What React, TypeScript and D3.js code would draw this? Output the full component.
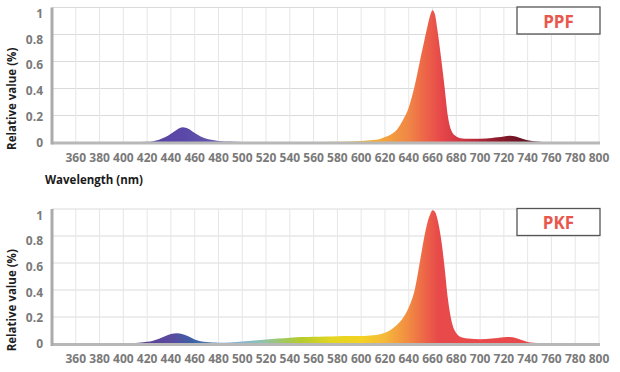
import * as d3 from "d3";

// spectrum sample points (nm)
const wavelengths = [
  340, 360, 380, 400, 410, 420, 425, 430, 435, 440, 445, 450, 455, 460, 465, 470, 475, 480,
  490, 500, 510, 520, 530, 540, 550, 560, 570, 580, 590, 600, 605, 610, 615, 620, 625, 630,
  635, 640, 645, 650, 653, 656, 658, 660, 662, 664, 667, 670, 673, 676, 680, 685, 690, 700,
  710, 715, 720, 725, 730, 735, 740, 750, 760, 780, 800,
];

const ppfValues = [
  0, 0, 0, 0.001, 0.002, 0.005, 0.01, 0.02, 0.038, 0.065, 0.095, 0.113, 0.1, 0.07, 0.045, 0.028, 0.018, 0.012,
  0.007, 0.004, 0.003, 0.002, 0.002, 0.002, 0.002, 0.003, 0.004, 0.005, 0.008, 0.012, 0.015, 0.018, 0.024, 0.04, 0.06, 0.095,
  0.165, 0.26, 0.42, 0.63, 0.75, 0.87, 0.94, 0.98, 0.95, 0.84, 0.64, 0.42, 0.19, 0.085, 0.045, 0.03, 0.027, 0.027,
  0.033, 0.038, 0.045, 0.05, 0.044, 0.03, 0.017, 0.006, 0.002, 0.001, 0,
];

const pkfValues = [
  0, 0, 0.001, 0.004, 0.008, 0.016, 0.025, 0.038, 0.057, 0.074, 0.08, 0.073, 0.055, 0.033, 0.02, 0.014, 0.011, 0.01,
  0.012, 0.018, 0.026, 0.034, 0.041, 0.047, 0.051, 0.054, 0.056, 0.058, 0.059, 0.06, 0.062, 0.065, 0.071, 0.083, 0.105, 0.14,
  0.19, 0.27, 0.4, 0.64, 0.79, 0.91, 0.96, 0.99, 0.98, 0.93, 0.79, 0.58, 0.33, 0.17, 0.08, 0.048, 0.04, 0.035,
  0.04, 0.045, 0.05, 0.052, 0.045, 0.03, 0.015, 0.006, 0.003, 0.001, 0,
];

const xTicks = [
  360, 380, 400, 420, 440, 460, 480, 500, 520, 540, 560, 580, 600, 620, 640, 660, 680, 700, 720, 740, 760, 780, 800,
];
const yTicks = [0, 0.2, 0.4, 0.6, 0.8, 1];
const yTickLabels = ["0", "0.2", "0.4", "0.6", "0.8", "1"];

// fill colour by wavelength
const ppfStopNm = [400, 450, 490, 590, 615, 640, 655, 668, 690, 715, 740];
const ppfStopColors = [
  "#5a3e9e", "#5a48a8", "#6660b0", "#f3c234", "#f4aa3c", "#f08646", "#ec6248", "#e6464a", "#c4303e", "#8c1c2c", "#601222",
];
const pkfStopNm = [400, 440, 458, 475, 495, 515, 535, 550, 575, 600, 620, 640, 655, 665, 800];
const pkfStopColors = [
  "#5c3a96", "#5a4a9e", "#3d60a6", "#4f7fb4", "#7fb2d6", "#8ec2b6", "#a2c85e", "#b6cc2c", "#e2d622", "#f4d222",
  "#f5b83a", "#f18a42", "#ec6248", "#e8494a", "#e8494a",
];

const FONT = "'Open Sans', 'DejaVu Sans', sans-serif";

export default function App() {
  const x = d3.scaleLinear().domain([340, 800]).range([52, 599]);

  const panels = [
    { id: "ppf", title: "PPF", values: ppfValues, stopNm: ppfStopNm, stopColors: ppfStopColors, top: 7.5, base: 142.5, labelTop: 13.3, labelBase: 142.3 },
    { id: "pkf", title: "PKF", values: pkfValues, stopNm: pkfStopNm, stopColors: pkfStopColors, top: 209, base: 344, labelTop: 215, labelBase: 343.5 },
  ];

  const x0 = x(340);
  const x1 = x(800);

  return (
    <div style={{ position: "fixed", left: 0, top: 0 }}>
      <svg width={620} height={372} style={{ display: "block", background: "#fff" }}>
        {panels.map((p) => {
          const y = d3.scaleLinear().domain([0, 1]).range([p.base, p.top]);
          const yLab = d3.scaleLinear().domain([0, 1]).range([p.labelBase, p.labelTop]);
          const area = d3
            .area<number>()
            .x((d, i) => x(wavelengths[i]))
            .y0(y(0))
            .y1((d) => y(d))
            .curve(d3.curveMonotoneX);
          return (
            <g key={p.id}>
              <defs>
                <linearGradient id={"grad-" + p.id} gradientUnits="userSpaceOnUse" x1={x0} y1={0} x2={x1} y2={0}>
                  {p.stopNm.map((nm, i) => (
                    <stop key={i} offset={(x(nm) - x0) / (x1 - x0)} stopColor={p.stopColors[i]} />
                  ))}
                </linearGradient>
              </defs>
              {/* grid */}
              {yTicks.slice(1).map((t) => (
                <line key={"h" + t} x1={x0} x2={x1} y1={y(t)} y2={y(t)} stroke="#dadada" strokeWidth={1} />
              ))}
              {xTicks.map((t) => (
                <line key={"v" + t} x1={x(t)} x2={x(t)} y1={y(1)} y2={y(0)} stroke="#e6e6e6" strokeWidth={1} />
              ))}
              <path d={area(p.values) || ""} fill={`url(#grad-${p.id})`} />
              {/* axes */}
              <line x1={x0} x2={x1 + 1} y1={y(0) + 0.5} y2={y(0) + 0.5} stroke="#b8b8b8" strokeWidth={3} />
              <line x1={x0} x2={x0} y1={y(1)} y2={y(0) + 2} stroke="#ababab" strokeWidth={3} />
              {yTicks.map((t, i) => (
                <text
                  key={"yl" + t}
                  x={43}
                  y={yLab(t)}
                  textAnchor="end"
                  dominantBaseline="central"
                  fontFamily={FONT}
                  fontWeight={700}
                  fontSize={12}
                  fill="#7a7a7a"
                >
                  {yTickLabels[i]}
                </text>
              ))}
              {xTicks.map((t) => (
                <text
                  key={"xl" + t}
                  x={x(t)}
                  y={y(0) + 19}
                  textAnchor="middle"
                  fontFamily={FONT}
                  fontWeight={700}
                  fontSize={12}
                  fill="#7a7a7a"
                >
                  {t}
                </text>
              ))}
              <text
                transform={`translate(16,${(p.labelTop + p.labelBase) / 2 + 21}) rotate(-90)`}
                textAnchor="middle"
                fontFamily={FONT}
                fontWeight={700}
                fontSize={11.5}
                fill="#1e1e1e"
              >
                Relative value (%)
              </text>
              {/* legend box */}
              <rect x={517} y={y(1) - 0.5} width={83} height={27} fill="#fff" stroke="#555" strokeWidth={1.3} />
              <text
                x={558.5}
                y={y(1) + 13.5}
                textAnchor="middle"
                dominantBaseline="central"
                fontFamily={FONT}
                fontWeight={700}
                fontSize={17}
                fill="#e8574b"
              >
                {p.title}
              </text>
            </g>
          );
        })}
        <text x={45} y={184} fontFamily={FONT} fontWeight={700} fontSize={11.5} fill="#1a1a1a">
          Wavelength (nm)
        </text>
      </svg>
    </div>
  );
}
